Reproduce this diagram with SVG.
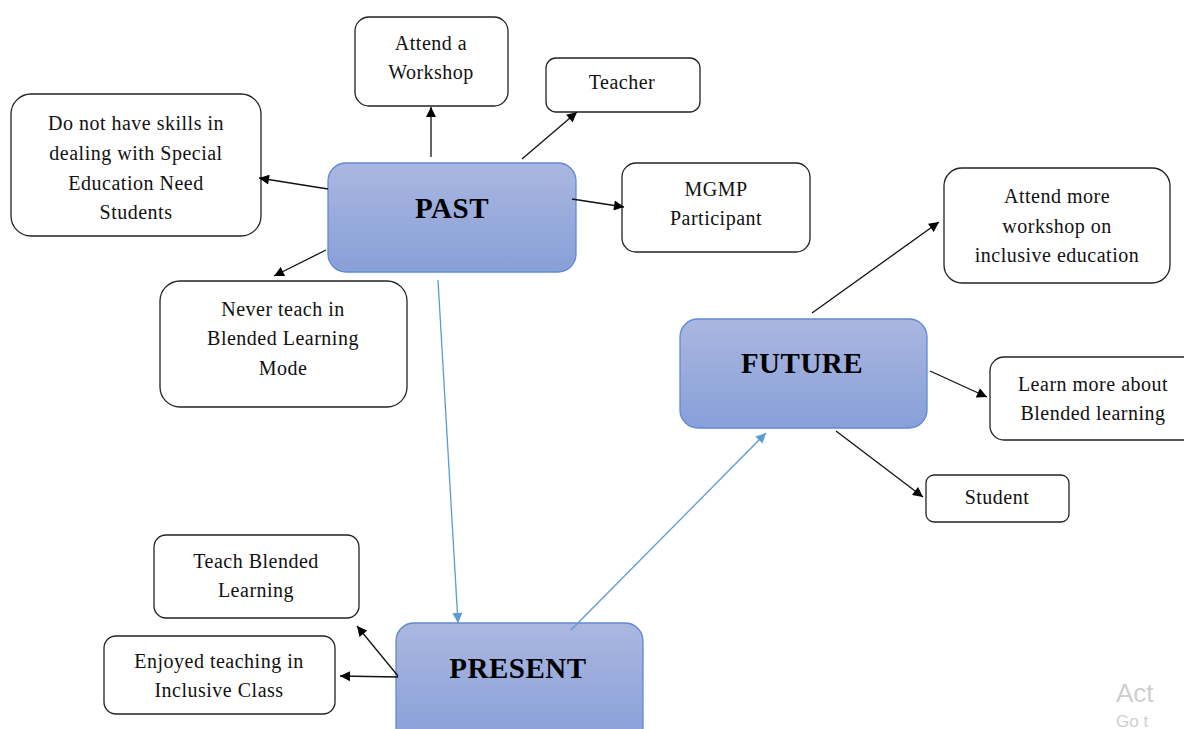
<svg xmlns="http://www.w3.org/2000/svg" width="1184" height="729" viewBox="0 0 1184 729">
<defs>
<linearGradient id="g" x1="0" y1="0" x2="0" y2="1">
<stop offset="0" stop-color="#aab7e0"/>
<stop offset="1" stop-color="#889fd8"/>
</linearGradient>
<marker id="ab" viewBox="0 0 10 10" refX="10" refY="5" markerWidth="11" markerHeight="10" markerUnits="userSpaceOnUse" orient="auto">
<path d="M0,0 L10,5 L0,10 z" fill="#000"/>
</marker>
<marker id="au" viewBox="0 0 10 10" refX="10" refY="5" markerWidth="11" markerHeight="10" markerUnits="userSpaceOnUse" orient="auto">
<path d="M0,0 L10,5 L0,10 z" fill="#5b9bd5"/>
</marker>
<style>
.box{fill:#fff;stroke:#222;stroke-width:1.3}
.main{fill:url(#g);stroke:#5f8ad2;stroke-width:1.3}
.t{font-family:"Liberation Serif",serif;font-size:20px;letter-spacing:0.5px;fill:#111;text-anchor:middle}
.m{font-family:"Liberation Serif",serif;font-size:29px;font-weight:bold;letter-spacing:0.5px;fill:#000;text-anchor:middle}
.c{stroke:#111;stroke-width:1.3;fill:none;marker-end:url(#ab)}
.b{stroke:#5b9bd5;stroke-width:1.3;fill:none;marker-end:url(#au)}
.w{font-family:"Liberation Sans",sans-serif;fill:#cfcfcf}
</style>
</defs>
<rect width="1184" height="729" fill="#fff"/>
<g id="attend-workshop"><rect class="box" x="355" y="17" width="153" height="89" rx="14"/><text class="t" x="431" y="50">Attend a</text><text class="t" x="431" y="79">Workshop</text></g>
<g id="teacher"><rect class="box" x="546" y="58" width="154" height="54" rx="10"/><text class="t" x="622" y="89">Teacher</text></g>
<g id="no-skills"><rect class="box" x="11" y="94" width="250" height="142" rx="20"/><text class="t" x="136" y="130">Do not have skills in</text><text class="t" x="136" y="160">dealing with Special</text><text class="t" x="136" y="190">Education Need</text><text class="t" x="136" y="219">Students</text></g>
<g id="mgmp"><rect class="box" x="622" y="163" width="188" height="89" rx="14"/><text class="t" x="716" y="196">MGMP</text><text class="t" x="716" y="225">Participant</text></g>
<g id="past"><rect class="main" x="328" y="163" width="248" height="109" rx="18"/><text class="m" x="452" y="218">PAST</text></g>
<g id="never-teach"><rect class="box" x="160" y="281" width="247" height="126" rx="20"/><text class="t" x="283" y="316">Never teach in</text><text class="t" x="283" y="345">Blended Learning</text><text class="t" x="283" y="375">Mode</text></g>
<g id="future"><rect class="main" x="680" y="319" width="247" height="109" rx="18"/><text class="m" x="802" y="373">FUTURE</text></g>
<g id="attend-more"><rect class="box" x="944" y="168" width="226" height="115" rx="18"/><text class="t" x="1057" y="203">Attend more</text><text class="t" x="1057" y="233">workshop on</text><text class="t" x="1057" y="262">inclusive education</text></g>
<g id="learn-more"><rect class="box" x="990" y="357" width="210" height="83" rx="14"/><text class="t" x="1093" y="391">Learn more about</text><text class="t" x="1093" y="420">Blended learning</text></g>
<g id="student"><rect class="box" x="926" y="475" width="143" height="47" rx="8"/><text class="t" x="997" y="504">Student</text></g>
<g id="teach-blended"><rect class="box" x="154" y="535" width="205" height="83" rx="12"/><text class="t" x="256" y="568">Teach Blended</text><text class="t" x="256" y="597">Learning</text></g>
<g id="enjoyed"><rect class="box" x="104" y="636" width="231" height="78" rx="12"/><text class="t" x="219" y="668">Enjoyed teaching in</text><text class="t" x="219" y="697">Inclusive Class</text></g>
<g id="present"><rect class="main" x="396" y="623" width="247" height="122" rx="18"/><text class="m" x="518" y="678">PRESENT</text></g>
<g id="connectors">
<line class="c" x1="431" y1="157" x2="431" y2="107"/>
<line class="c" x1="522" y1="159" x2="577" y2="112"/>
<line class="c" x1="328" y1="189" x2="259" y2="178"/>
<line class="c" x1="572" y1="199" x2="624" y2="207"/>
<line class="c" x1="326" y1="250" x2="274" y2="276"/>
<line class="b" x1="438" y1="280" x2="458" y2="623"/>
<line class="b" x1="571" y1="630" x2="766" y2="433"/>
<line class="c" x1="812" y1="313" x2="939" y2="222"/>
<line class="c" x1="930" y1="371" x2="987" y2="397"/>
<line class="c" x1="836" y1="431" x2="923" y2="497"/>
<line class="c" x1="398" y1="676" x2="357" y2="626"/>
<line class="c" x1="398" y1="677" x2="340" y2="676"/>
</g>
<text class="w" x="1116" y="702" font-size="26">Act</text>
<text class="w" x="1116" y="727" font-size="17">Go t</text>
</svg>
